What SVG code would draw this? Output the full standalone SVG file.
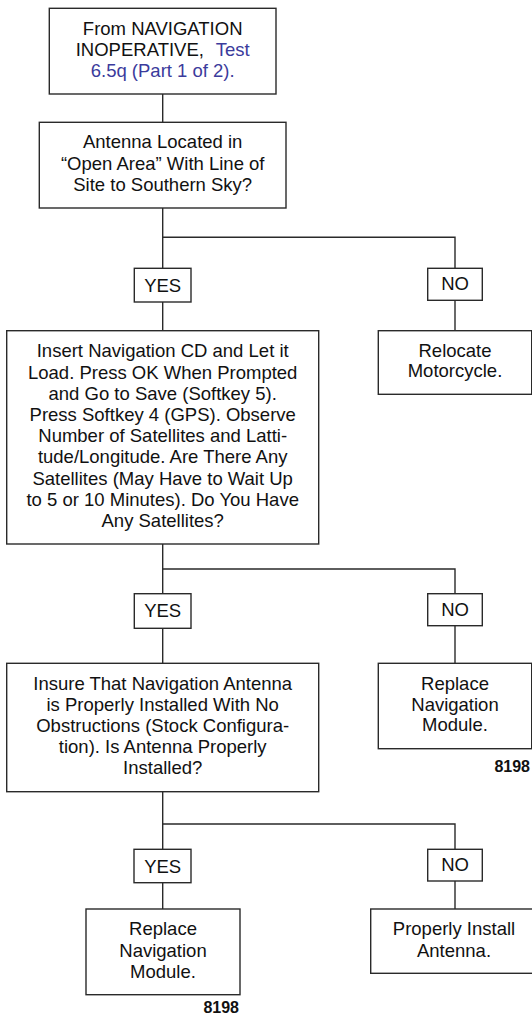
<svg xmlns="http://www.w3.org/2000/svg" width="532" height="1015" viewBox="0 0 532 1015">
<style>
rect{fill:#fff;stroke:#2a2a2a;stroke-width:1.4}
.c line,.c polyline{fill:none;stroke:#2a2a2a;stroke-width:1.4}
text{font-family:"Liberation Sans",Arial,sans-serif;font-size:18.5px;fill:#111;text-anchor:middle}
.blue{fill:#3b3b9c}
.num{font-size:16px;font-weight:bold;text-anchor:end}
</style>
<rect x="0" y="0" width="532" height="1015" style="stroke:none"/>
<g class="c" id="connectors">
<line x1="162.7" y1="94" x2="162.7" y2="122.3"/>
<line x1="162.7" y1="208" x2="162.7" y2="268.3"/>
<polyline points="162.7,237.3 455,237.3 455,268.3"/>
<line x1="162.7" y1="302" x2="162.7" y2="330.7"/>
<line x1="455" y1="300.3" x2="455" y2="330.7"/>
<line x1="162.7" y1="544" x2="162.7" y2="593.7"/>
<polyline points="162.7,569 455,569 455,593.7"/>
<line x1="162.7" y1="628.3" x2="162.7" y2="663.3"/>
<line x1="455" y1="625.7" x2="455" y2="663.3"/>
<line x1="162.7" y1="791.7" x2="162.7" y2="849.3"/>
<polyline points="162.7,824 455,824 455,849.3"/>
<line x1="162.7" y1="882.7" x2="162.7" y2="909"/>
<line x1="455" y1="881" x2="455" y2="909"/>
</g>
<g id="start">
<rect x="49.3" y="8.3" width="226.7" height="85.7"/>
<text x="162.7" y="35">From NAVIGATION</text>
<text x="162.7" y="56">INOPERATIVE, <tspan class="blue" dx="7">Test</tspan></text>
<text x="162.7" y="77" class="blue">6.5q (Part 1 of 2).</text>
</g>
<g id="q1">
<rect x="39.3" y="122.3" width="246.7" height="85.7"/>
<text x="162.7" y="148">Antenna Located in</text>
<text x="162.7" y="169.5">“Open Area” With Line of</text>
<text x="162.7" y="190.7">Site to Southern Sky?</text>
</g>
<g id="yes1">
<rect x="134.3" y="268.3" width="56.7" height="33.7"/>
<text x="162.7" y="291.7">YES</text>
</g>
<g id="no1">
<rect x="427.7" y="268.3" width="54.6" height="32"/>
<text x="455" y="290">NO</text>
</g>
<g id="relocate">
<rect x="378.3" y="330.7" width="153.4" height="63.6"/>
<text x="455" y="356.7">Relocate</text>
<text x="455" y="377.3">Motorcycle.</text>
</g>
<g id="q2">
<rect x="6.7" y="330.7" width="312" height="213.3"/>
<text x="162.7" y="357.3">Insert Navigation CD and Let it</text>
<text x="162.7" y="378.5">Load. Press OK When Prompted</text>
<text x="162.7" y="399.7">and Go to Save (Softkey 5).</text>
<text x="162.7" y="420.9">Press Softkey 4 (GPS). Observe</text>
<text x="162.7" y="442.1">Number of Satellites and Latti-</text>
<text x="162.7" y="463.3">tude/Longitude. Are There Any</text>
<text x="162.7" y="484.5">Satellites (May Have to Wait Up</text>
<text x="162.7" y="505.7">to 5 or 10 Minutes). Do You Have</text>
<text x="162.7" y="526.9">Any Satellites?</text>
</g>
<g id="yes2">
<rect x="134.3" y="593.7" width="56.7" height="34.6"/>
<text x="162.7" y="617">YES</text>
</g>
<g id="no2">
<rect x="427.7" y="593.7" width="54.6" height="32"/>
<text x="455" y="615.5">NO</text>
</g>
<g id="replace1">
<rect x="378.3" y="663.3" width="153.4" height="85.4"/>
<text x="455" y="690">Replace</text>
<text x="455" y="710.7">Navigation</text>
<text x="455" y="731.3">Module.</text>
<text x="530" y="771.7" class="num">8198</text>
</g>
<g id="q3">
<rect x="6.7" y="663.3" width="312" height="128.4"/>
<text x="162.7" y="690">Insure That Navigation Antenna</text>
<text x="162.7" y="710.7">is Properly Installed With No</text>
<text x="162.7" y="731.7">Obstructions (Stock Configura-</text>
<text x="162.7" y="753">tion). Is Antenna Properly</text>
<text x="162.7" y="774">Installed?</text>
</g>
<g id="yes3">
<rect x="134" y="849.3" width="57" height="33.4"/>
<text x="162.7" y="872.5">YES</text>
</g>
<g id="no3">
<rect x="427.7" y="849.3" width="54.6" height="31.7"/>
<text x="455" y="871">NO</text>
</g>
<g id="replace2">
<rect x="86" y="909" width="154" height="85.7"/>
<text x="163" y="935">Replace</text>
<text x="163" y="956.7">Navigation</text>
<text x="163" y="977.7">Module.</text>
<text x="239" y="1013" class="num">8198</text>
</g>
<g id="install">
<rect x="370.7" y="909" width="168.6" height="64.3"/>
<text x="454" y="935">Properly Install</text>
<text x="454" y="956.7">Antenna.</text>
</g>
</svg>
